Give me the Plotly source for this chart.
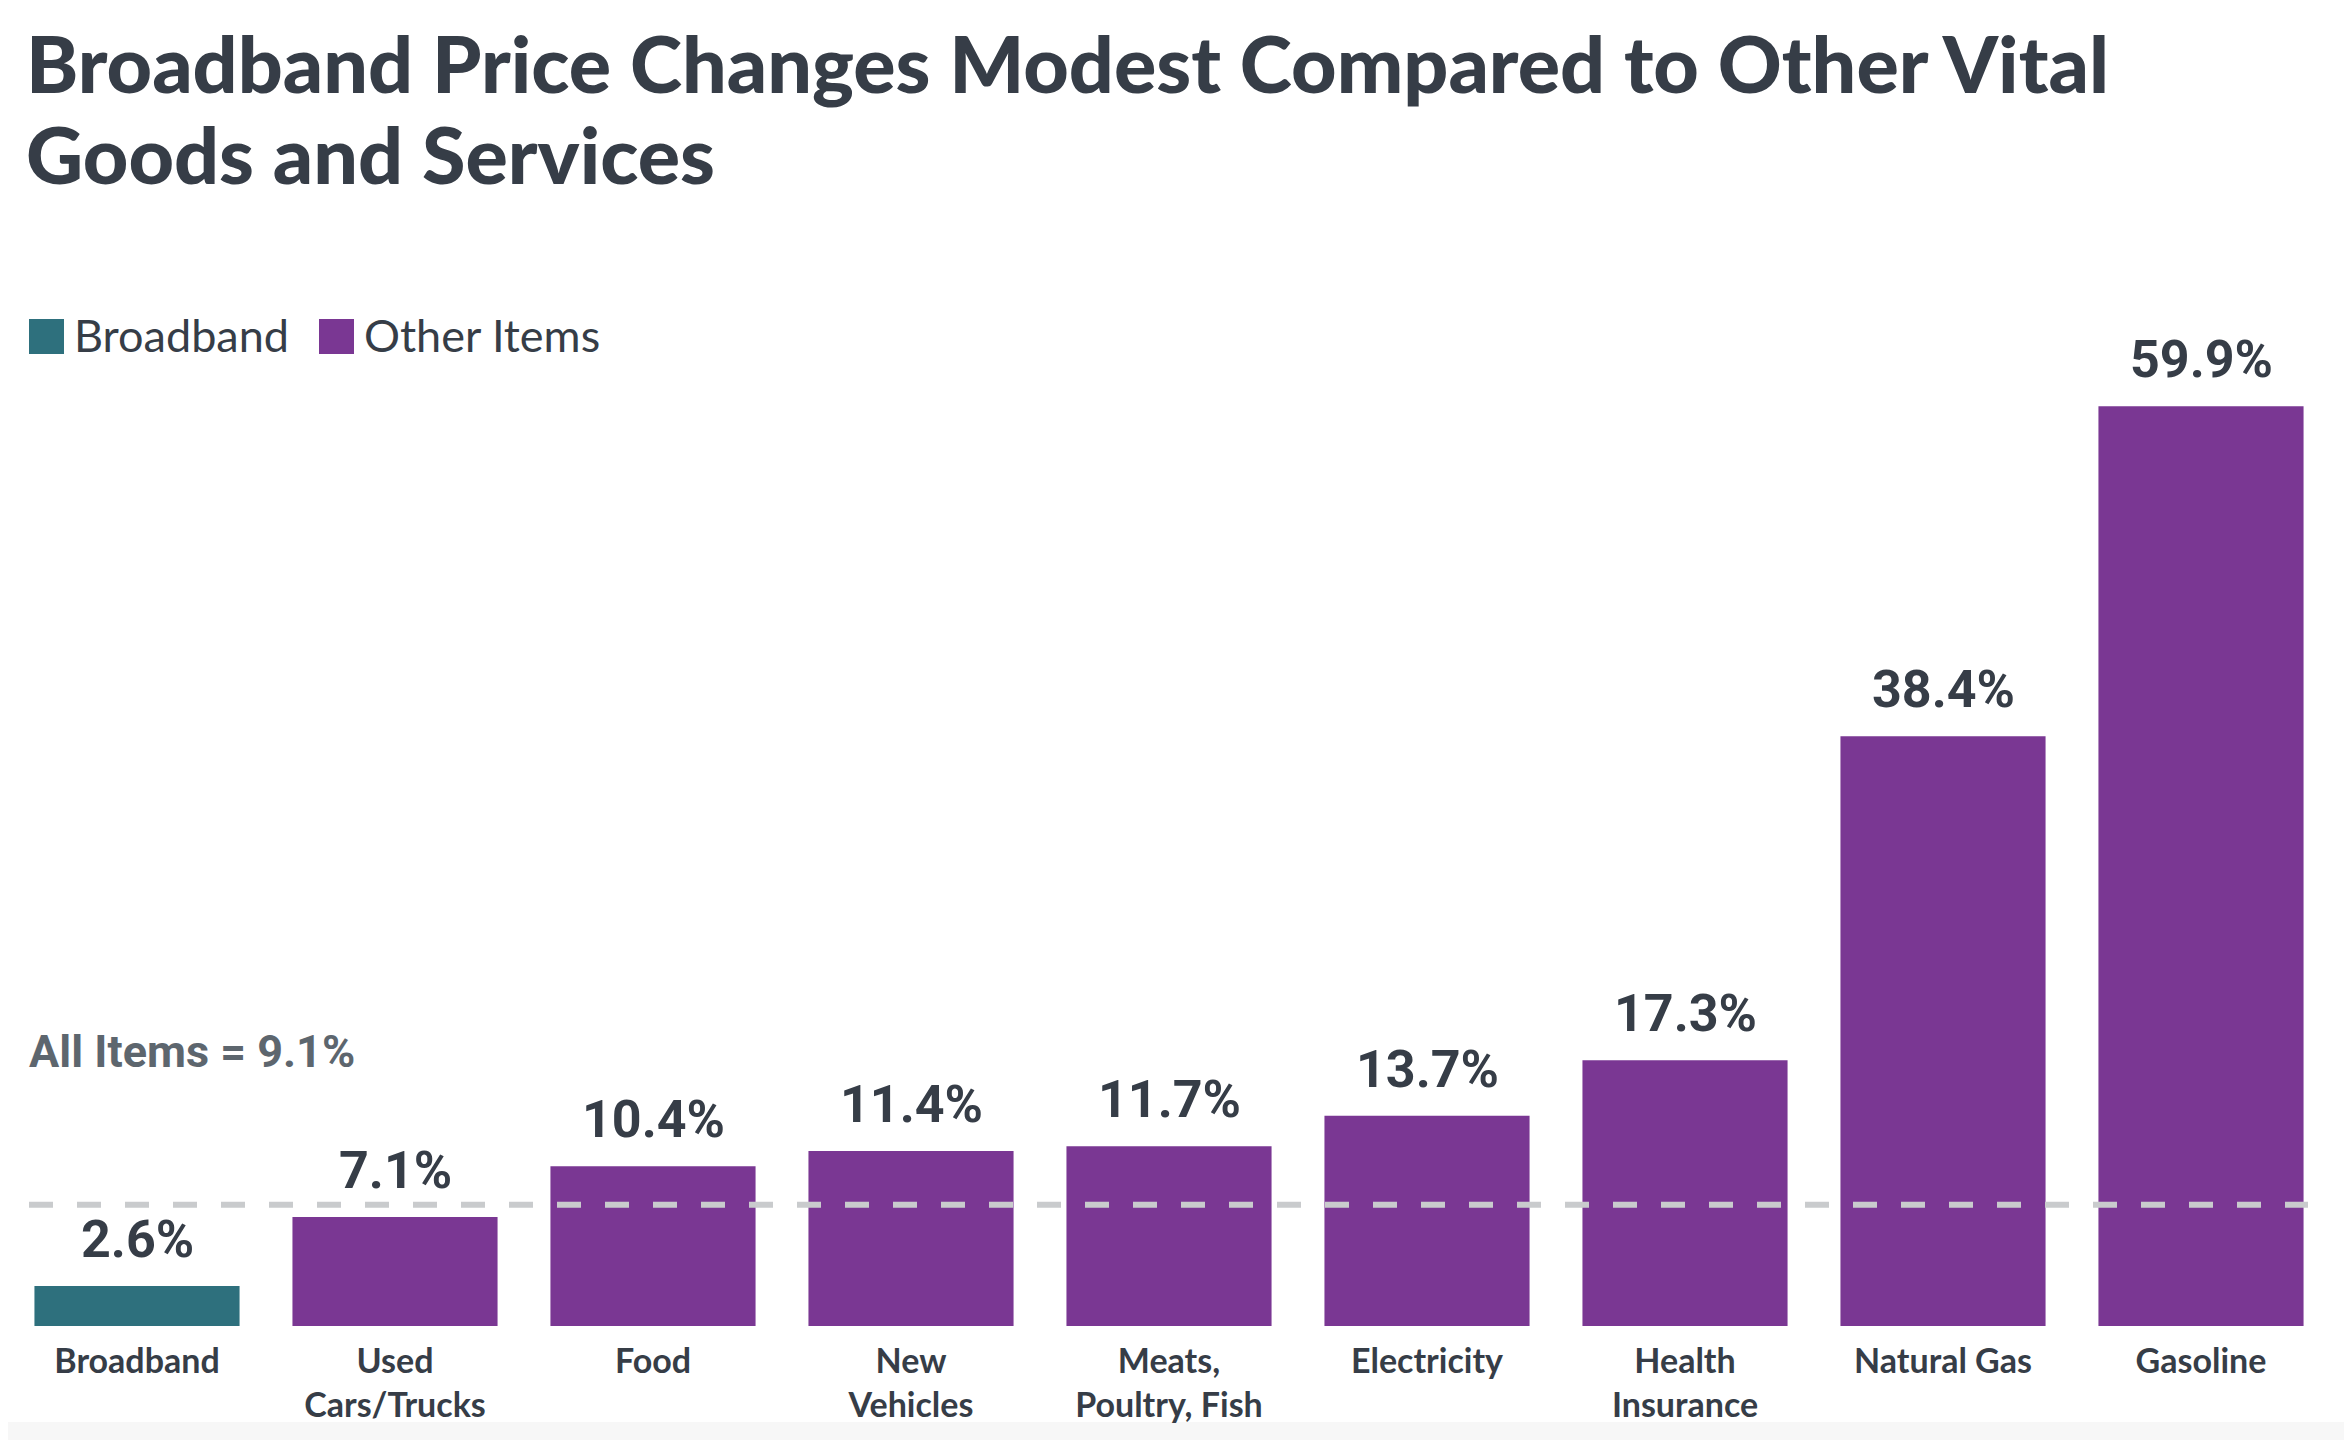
import plotly.graph_objects as go

# data
categories = ["Broadband", "Used<br>Cars/Trucks", "Food", "New<br>Vehicles",
              "Meats,<br>Poultry, Fish", "Electricity", "Health<br>Insurance",
              "Natural Gas", "Gasoline"]
price_change = [2.6, 7.1, 10.4, 11.4, 11.7, 13.7, 17.3, 38.4, 59.9]
groups = ["Broadband", "Other Items", "Other Items", "Other Items", "Other Items",
          "Other Items", "Other Items", "Other Items", "Other Items"]
title_lines = ["Broadband Price Changes Modest Compared to Other Vital",
               "Goods and Services"]
all_items_label = "All Items = 9.1%"
all_items_line = 7.9  # the reference draws the dashed reference line at this level

TEAL = "#2e707d"
PURPLE = "#7a3793"
DARK = "#363d47"
GREY_TEXT = "#5d666e"
DASH = "#c9cbcd"
group_colors = {"Broadband": TEAL, "Other Items": PURPLE}

# page is 2352x1440, the browser puts the figure 8px in from the top-left
PAGE_W, PAGE_H, OFF = 2352, 1440, 8
W, H = PAGE_W - OFF, PAGE_H - OFF
ML, MR, MT, MB = 0, 22, 366, 114
PW, PH = W - ML - MR, H - MT - MB


def px_x(x):
    # page pixel -> paper fraction
    return (x - OFF - ML) / PW


def px_y(y):
    return (H - MB - (y - OFF)) / PH


fig = go.Figure(
    go.Bar(
        x=categories,
        y=price_change,
        marker=dict(color=[group_colors[g] for g in groups], line=dict(width=0)),
        hoverinfo="x+y",
        showlegend=False,
    )
)

# value labels above the bars
for cat, val in zip(categories, price_change):
    fig.add_annotation(
        x=cat, y=val, text=f"{val}%", showarrow=False, yanchor="bottom", yshift=14,
        font=dict(family="Roboto", size=52, color=DARK, weight="bold"),
    )

# dashed all-items line and its label
fig.add_shape(type="line", xref="paper", yref="y", x0=px_x(29), x1=px_x(2308),
              y0=all_items_line, y1=all_items_line,
              line=dict(color=DASH, width=6, dash="24px,24px"))
fig.add_annotation(xref="paper", yref="paper", x=px_x(27), y=px_y(1080),
                   xanchor="left", yanchor="bottom", showarrow=False, text=all_items_label,
                   font=dict(family="Roboto", size=45, color=GREY_TEXT, weight="bold"))

# title, one annotation per line to keep the tight line spacing
for i, line in enumerate(title_lines):
    fig.add_annotation(xref="paper", yref="paper", x=px_x(24), y=px_y(62 + 92 * i),
                       xanchor="left", yanchor="middle", showarrow=False, text=line,
                       font=dict(family="Lato", size=79, color=DARK, weight=900))

# hand-made legend (big squares)
legend_items = [("Broadband", TEAL, 29, 72), ("Other Items", PURPLE, 319, 362)]
for name, color, sq_x, tx_x in legend_items:
    fig.add_shape(type="rect", xref="paper", yref="paper",
                  x0=px_x(sq_x), x1=px_x(sq_x + 35), y0=px_y(354), y1=px_y(319),
                  fillcolor=color, line=dict(width=0))
    fig.add_annotation(xref="paper", yref="paper", x=px_x(tx_x), y=px_y(335),
                       xanchor="left", yanchor="middle", showarrow=False, text=name,
                       font=dict(family="Lato", size=45, color=DARK))

# faint grey band at the very bottom of the page
fig.add_shape(type="rect", xref="paper", yref="paper", layer="below",
              x0=px_x(0), x1=px_x(PAGE_W), y0=px_y(PAGE_H), y1=px_y(1422),
              fillcolor="#f7f7f7", line=dict(width=0))

fig.update_layout(
    width=W,
    height=H,
    margin=dict(l=ML, r=MR, t=MT, b=MB),
    paper_bgcolor="white",
    plot_bgcolor="white",
    bargap=0.205,
    xaxis=dict(
        showgrid=False, showline=False, zeroline=False, ticks="",
        tickfont=dict(family="Lato", size=34, color=DARK, weight="bold"),
        ticklabelstandoff=12,
    ),
    yaxis=dict(range=[0, 62], visible=False, showgrid=False, zeroline=False),
)

fig.write_html("out.html")
